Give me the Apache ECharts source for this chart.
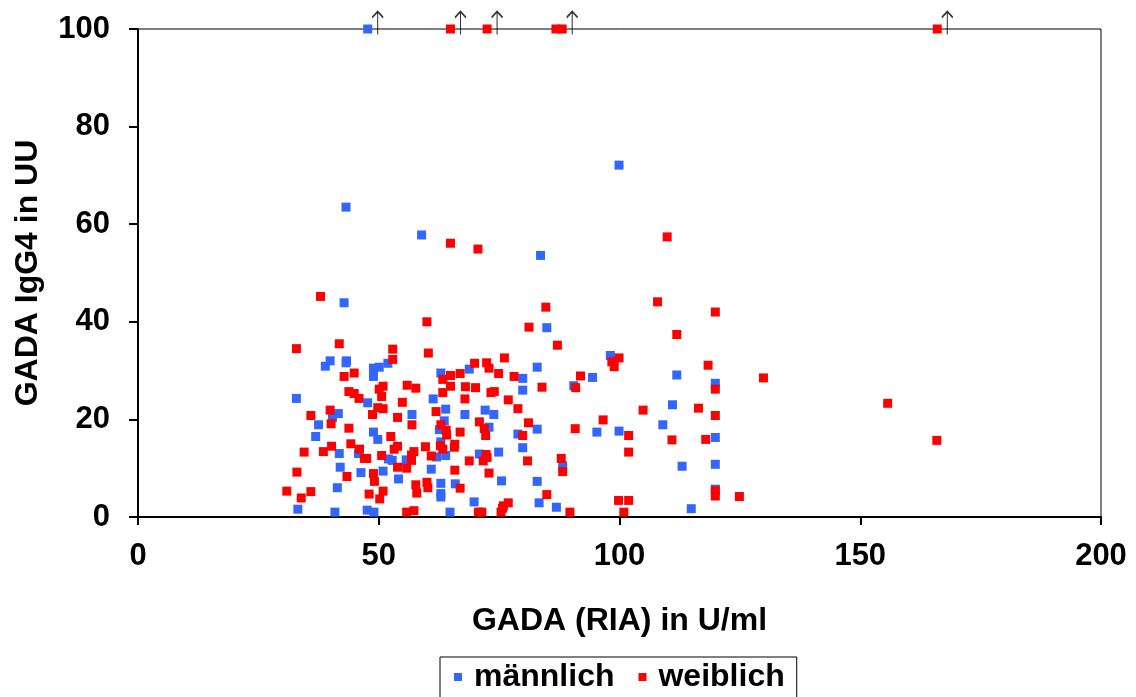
<!DOCTYPE html>
<html>
<head>
<meta charset="utf-8">
<script src="https://cdn.jsdelivr.net/npm/echarts@6/dist/echarts.min.js"></script>
<style>
  html, body { margin: 0; padding: 0; background: #fff; }
  #chart { width: 1136px; height: 697px; }
</style>
</head>
<body>
<div id="chart"></div>
<script>
// GADA (RIA) vs. GADA IgG4, by sex
const xTicks = [0, 50, 100, 150, 200];
const yTicks = [0, 20, 40, 60, 80, 100];

const maleX = [42.8,39.9,38.9,43.3,43.2,48.9,50.1,51.9,48.9,32.9,47.7,41.6,40.4,56.9,37.5,36.9,48.9,49.8,41.8,45.8,52.0,52.8,55.7,42.0,46.3,50.9,54.1,41.4,33.2,40.9,47.6,49.0,
  62.9,68.8,82.9,79.9,79.9,61.3,84.9,
  63.9,67.9,72.1,73.9,82.9,63.6,72.9,62.6,62.9,78.9,79.9,62.0,63.9,70.9,74.9,88.2,60.9,75.5,82.9,62.9,65.9,62.9,62.9,69.8,83.3,86.9,64.8,
  98.1,94.4,111.9,90.5,111.0,95.3,99.9,109.0,113.0,114.9,
  119.9,119.9,119.9,119.9,
  43.2,58.9,83.6,99.9,
  47.7];
const maleY = [43.9,32.0,30.9,32.0,31.6,30.5,30.7,31.5,28.8,24.3,23.4,21.2,20.4,21.0,18.9,16.5,17.4,15.9,13.0,13.0,11.9,11.6,11.7,10.2,9.1,9.4,7.8,6.0,1.6,1.0,1.4,1.0,
  29.5,30.3,30.7,28.4,26.0,24.2,38.8,
  22.1,21.0,21.9,21.0,18.0,19.7,18.4,17.9,15.4,17.0,14.2,12.3,12.6,12.9,13.3,10.5,9.8,7.4,7.3,6.9,6.8,4.8,4.1,3.1,2.9,2.0,1.0,
  33.1,28.6,29.1,26.9,23.0,17.4,17.6,18.9,10.4,1.7,
  27.4,16.3,10.8,5.7,
  63.5,57.8,53.6,72.1,
  100];

const femaleX = [37.9,32.9,41.8,52.9,52.9,42.8,44.9,43.8,44.9,45.9,50.1,50.9,50.6,55.9,57.7,54.9,
  39.9,35.9,40.1,49.8,50.9,48.7,53.9,56.9,43.8,52.5,53.2,53.9,40.2,44.2,46.0,34.5,38.5,47.0,47.5,50.6,56.8,57.3,56.8,53.9,55.8,33.0,48.9,43.4,49.1,30.9,35.9,33.9,48.0,50.9,50.2,57.7,57.9,55.8,57.3,
  84.7,60.0,81.2,87.1,60.3,76.1,69.9,72.4,72.9,74.9,66.9,64.9,63.3,78.1,83.9,64.9,68.0,70.1,73.3,74.0,63.3,67.9,76.9,
  78.9,61.9,81.1,62.9,70.9,71.9,72.2,64.0,64.1,66.9,79.9,59.7,62.8,63.3,65.8,65.7,60.9,72.3,72.5,71.7,68.8,80.9,87.9,88.2,65.8,72.9,60.0,60.2,66.9,84.9,76.9,75.9,70.7,71.4,75.4,75.7,
  107.9,111.9,98.4,99.9,98.9,118.4,91.9,90.9,
  116.4,104.9,96.6,90.8,101.9,110.9,117.9,101.9,99.8,101.9,100.9,89.7,
  119.9,129.9,119.9,119.9,119.9,119.9,124.9,155.7,165.9,
  64.9,70.6,109.9,
  64.9,72.5,86.8,88.1,166.0];
const femaleY = [45.2,34.5,35.5,34.4,32.3,28.8,29.5,25.7,25.3,24.3,26.2,26.8,24.7,27.0,26.4,23.5,
  21.9,20.8,19.1,22.4,22.2,21.0,20.4,18.9,18.2,16.5,13.9,14.5,14.5,15.0,13.9,13.3,13.4,12.0,12.0,12.6,12.7,13.4,11.6,10.2,10.0,9.2,8.9,8.3,7.3,5.3,5.2,3.9,4.7,5.3,3.7,6.6,4.9,1.0,1.3,
  43.0,40.0,38.9,35.2,33.6,32.6,31.5,31.6,30.5,29.4,29.4,29.0,28.2,28.8,26.6,26.8,26.7,26.5,25.5,25.7,25.5,24.2,24.0,
  22.2,21.6,19.3,18.9,19.5,18.1,16.7,17.8,16.8,17.4,16.7,14.4,14.6,13.9,14.9,14.3,12.5,12.8,12.2,11.5,11.5,11.5,12.0,9.3,9.6,9.0,7.1,6.0,5.9,4.6,2.9,2.3,1.0,1.0,1.0,1.8,
  44.1,37.4,31.8,32.6,30.8,31.1,28.9,26.5,
  22.3,21.9,19.9,18.1,16.7,15.8,15.9,13.3,3.4,3.4,1.0,1.0,
  42.0,28.5,26.2,20.8,5.4,4.3,4.2,23.3,15.7,
  56.1,54.9,57.4,
  100,100,100,100,100];

// values above the axis range, marked with an arrow at the top edge
const offScaleX = [47.7, 64.9, 72.5, 88.1, 166.0];
const offScaleY = [100, 100, 100, 100, 100];

const zip = (xs, ys) => xs.map((x, i) => [x, ys[i]]);

const chart = echarts.init(document.getElementById('chart'));
const font = "'Liberation Sans', Arial, sans-serif";

chart.setOption({
  animation: false,
  backgroundColor: '#ffffff',
  grid: {
    left: 138, right: 35, top: 29, bottom: 180,
    show: true, borderColor: '#000', borderWidth: 1, backgroundColor: 'transparent'
  },
  legend: {
    data: ['männlich', 'weiblich'],
    left: 440, top: 657,
    icon: 'rect', itemWidth: 8, itemHeight: 8, itemGap: 24,
    borderColor: '#000', borderWidth: 1,
    padding: [4, 12, 20, 14],
    textStyle: { fontFamily: font, fontWeight: 'bold', fontSize: 32, color: '#000', padding: [0, 0, 0, 7] }
  },
  xAxis: {
    type: 'value', min: xTicks[0], max: xTicks[xTicks.length - 1], interval: xTicks[1] - xTicks[0],
    name: 'GADA (RIA) in U/ml', nameLocation: 'middle', nameGap: 88,
    nameTextStyle: { fontFamily: font, fontWeight: 'bold', fontSize: 32, color: '#000' },
    axisLine: { lineStyle: { color: '#000', width: 2 } },
    axisTick: { show: true, inside: false, length: 8, lineStyle: { color: '#000', width: 2 } },
    axisLabel: { fontFamily: font, fontWeight: 'bold', fontSize: 31, color: '#000', margin: 24 },
    splitLine: { show: false }
  },
  yAxis: {
    type: 'value', min: yTicks[0], max: yTicks[yTicks.length - 1], interval: yTicks[1] - yTicks[0],
    name: 'GADA IgG4 in UU', nameLocation: 'middle', nameGap: 94, nameRotate: 90,
    nameTextStyle: { fontFamily: font, fontWeight: 'bold', fontSize: 32, color: '#000' },
    axisLine: { show: true, lineStyle: { color: '#000', width: 2 } },
    axisTick: { show: true, inside: false, length: 9, lineStyle: { color: '#000', width: 2 } },
    axisLabel: { fontFamily: font, fontWeight: 'bold', fontSize: 31, color: '#000', margin: 28 },
    splitLine: { show: false }
  },
  series: [
    {
      name: 'männlich', type: 'scatter', data: zip(maleX, maleY),
      symbol: 'rect', symbolSize: 9, clip: false,
      itemStyle: { color: '#3366ff', opacity: 1 }
    },
    {
      name: 'weiblich', type: 'scatter', data: zip(femaleX, femaleY),
      symbol: 'rect', symbolSize: 9, clip: false,
      itemStyle: { color: '#ff0000', opacity: 1 }
    },
    {
      name: 'arrows', type: 'scatter', data: zip(offScaleX, offScaleY),
      symbol: 'path://M5,0 L5,23 M0,6 L5,0 L10,6',
      symbolSize: [11, 23], symbolOffset: [10, -6], clip: false, silent: true,
      itemStyle: { color: 'transparent', borderColor: '#000', borderWidth: 1.5 },
      z: 3
    }
  ]
});
</script>
</body>
</html>
